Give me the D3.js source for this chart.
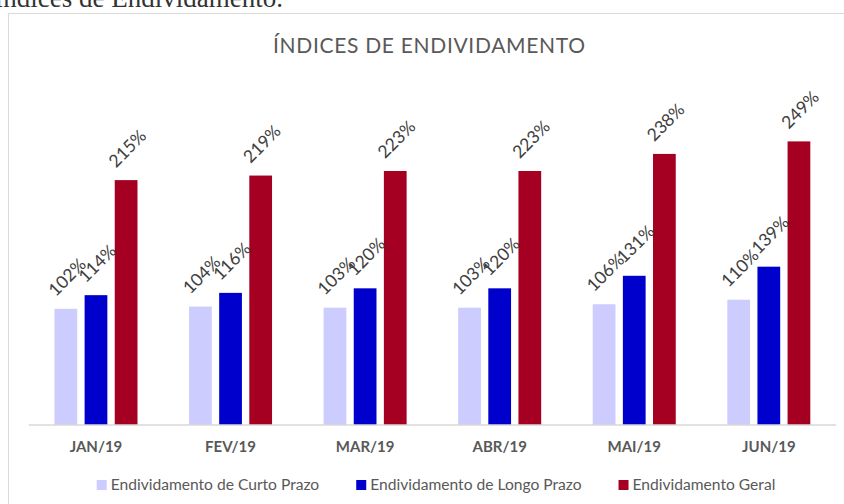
<!DOCTYPE html>
<html>
<head>
<meta charset="utf-8">
<script src="https://cdn.jsdelivr.net/npm/d3@7"></script>
<style>
  html, body { margin: 0; padding: 0; background: #fff; overflow: hidden; }
  svg { display: block; }
</style>
</head>
<body>
<svg id="chart" width="844" height="504"></svg>
<script>
const categories = ["JAN/19", "FEV/19", "MAR/19", "ABR/19", "MAI/19", "JUN/19"];
const seriesNames = ["Endividamento de Curto Prazo", "Endividamento de Longo Prazo", "Endividamento Geral"];
const curtoPrazo = [102, 104, 103, 103, 106, 110];
const longoPrazo = [114, 116, 120, 120, 131, 139];
const geral = [215, 219, 223, 223, 238, 249];
const seriesColors = ["#CCCCFF", "#0000CC", "#A50021"];
const titleText = "ÍNDICES DE ENDIVIDAMENTO";
const headingText = "Índices de Endividamento.";

const series = [curtoPrazo, longoPrazo, geral];
const svg = d3.select("#chart");
const font = "Lato, 'Open Sans', sans-serif";

// cropped heading above chart
svg.append("text")
  .attr("x", 283).attr("y", 7)
  .attr("text-anchor", "end")
  .attr("font-family", "'Liberation Serif', 'DejaVu Serif', serif")
  .attr("font-size", 27)
  .attr("fill", "#333")
  .text(headingText);

// chart border
svg.append("rect")
  .attr("x", 8.5).attr("y", 13.5)
  .attr("width", 900).attr("height", 600)
  .attr("fill", "none")
  .attr("stroke", "#D9D9D9")
  .attr("stroke-width", 1);

// title
svg.append("text")
  .attr("x", 273).attr("y", 53)
  .attr("textLength", 312)
  .attr("lengthAdjust", "spacing")
  .attr("font-family", font)
  .attr("font-size", 21)
  .attr("fill", "#595959")
  .text(titleText);

const x0 = d3.scaleBand().domain(categories).range([28.7, 836.1]).padding(0);
const x1 = d3.scaleBand().domain(d3.range(series.length)).range([-41.5, 41.5]).paddingInner(0.245).paddingOuter(0);
const y = d3.scaleLinear().domain([0, 300]).range([425, 83.3]);

const groups = svg.append("g").selectAll("g")
  .data(categories)
  .join("g")
  .attr("transform", d => `translate(${x0(d) + x0.bandwidth() / 2},0)`);

groups.each(function(cat, ci) {
  const g = d3.select(this);
  series.forEach((vals, si) => {
    const v = vals[ci];
    g.append("rect")
      .attr("x", x1(si))
      .attr("y", y(v))
      .attr("width", x1.bandwidth())
      .attr("height", y(0) - y(v))
      .attr("fill", seriesColors[si]);
  });
});

// axis line
svg.append("line")
  .attr("x1", 28.7).attr("x2", 836.1)
  .attr("y1", 425).attr("y2", 425)
  .attr("stroke", "#D9D9D9").attr("stroke-width", 1.5);

// data labels
groups.each(function(cat, ci) {
  const g = d3.select(this);
  series.forEach((vals, si) => {
    const v = vals[ci];
    const cx = x1(si) + x1.bandwidth() / 2 + 1;
    const cy = y(v) - 32;
    g.append("text")
      .attr("transform", `translate(${cx},${cy}) rotate(-45)`)
      .attr("text-anchor", "middle")
      .attr("dominant-baseline", "central")
      .attr("font-family", font)
      .attr("font-size", 17.5)
      .attr("fill", "#404040")
      .text(v + "%");
  });
});

// x axis labels
const xAxis = d3.axisBottom(x0).tickSize(0).tickPadding(0);
const ax = svg.append("g").attr("transform", "translate(0,425)").call(xAxis);
ax.select(".domain").remove();
ax.selectAll("text")
  .attr("y", 27)
  .attr("dy", 0)
  .attr("font-family", font)
  .attr("font-weight", "bold")
  .attr("font-size", 15)
  .attr("fill", "#595959");

// legend
const legend = svg.append("g");
let lx = 0;
seriesNames.forEach((name, i) => {
  const item = legend.append("g").attr("transform", `translate(${lx},0)`);
  item.append("rect")
    .attr("x", 0).attr("y", 480)
    .attr("width", 10).attr("height", 10)
    .attr("fill", seriesColors[i]);
  const t = item.append("text")
    .attr("x", 14).attr("y", 490)
    .attr("font-family", font)
    .attr("font-size", 15.6)
    .attr("fill", "#595959")
    .text(name);
  lx += 14 + t.node().getComputedTextLength() + 37;
});
const legendWidth = lx - 37;
legend.attr("transform", `translate(${436 - legendWidth / 2},0)`);
</script>
</body>
</html>
